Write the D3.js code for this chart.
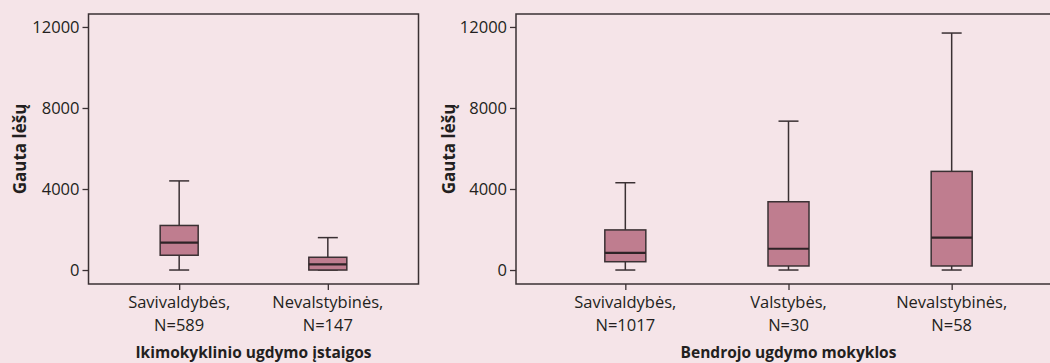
<!DOCTYPE html>
<html>
<head>
<meta charset="utf-8">
<script src="https://cdn.jsdelivr.net/npm/d3@7"></script>
<style>
  html, body { margin: 0; padding: 0; background: #f5e4e8; }
  svg { display: block; }
  text { font-family: "Open Sans", "Noto Sans", sans-serif; fill: #231f20; }
</style>
</head>
<body>
<svg id="chart" width="1050" height="363"></svg>
<script>
// ---- Data ----
const yTicks = [0, 4000, 8000, 12000];
const yLabel = "Gauta lėšų";

const preschoolTitle = "Ikimokyklinio ugdymo įstaigos";
const preschoolTypes = ["Savivaldybės,", "Nevalstybinės,"];
const preschoolN = ["N=589", "N=147"];
const preschoolMin = [0, 0];
const preschoolQ1 = [730, 0];
const preschoolMedian = [1350, 280];
const preschoolQ3 = [2200, 630];
const preschoolMax = [4400, 1600];

const schoolTitle = "Bendrojo ugdymo mokyklos";
const schoolTypes = ["Savivaldybės,", "Valstybės,", "Nevalstybinės,"];
const schoolN = ["N=1017", "N=30", "N=58"];
const schoolMin = [0, 0, 0];
const schoolQ1 = [410, 200, 200];
const schoolMedian = [850, 1050, 1600];
const schoolQ3 = [1980, 3370, 4870];
const schoolMax = [4310, 7350, 11700];

// ---- Drawing ----
const svg = d3.select("#chart");
const lineColor = "#3a3033";
const boxFill = "#bf7d8f";
const FONT = "'Open Sans', 'Noto Sans', sans-serif";

function panel(cfg) {
  const g = svg.append("g");
  const y = d3.scaleLinear().domain([-690, 12640]).range([cfg.bottom, cfg.top]);
  const x = d3.scalePoint().domain(cfg.types).range([cfg.left, cfg.right]).padding(cfg.pad);

  // frame
  g.append("rect")
    .attr("x", cfg.left).attr("y", cfg.top)
    .attr("width", cfg.right - cfg.left).attr("height", cfg.bottom - cfg.top)
    .attr("fill", "none").attr("stroke", lineColor).attr("stroke-width", 1.5);

  // y axis
  const ya = g.append("g").attr("transform", `translate(${cfg.left},0)`)
    .call(d3.axisLeft(y).tickValues(yTicks).tickSize(6).tickPadding(3).tickFormat(d3.format("d")));
  ya.attr("font-size", null).attr("font-family", null);
  ya.select(".domain").remove();
  ya.selectAll("line").attr("stroke", lineColor).attr("stroke-width", 1.3);
  ya.selectAll("text").attr("font-size", 16.5).attr("fill", "#231f20")
    .style("font-family", FONT);

  // x axis ticks
  const xa = g.append("g").attr("transform", `translate(0,${cfg.bottom})`)
    .call(d3.axisBottom(x).tickSize(6).tickFormat(""));
  xa.select(".domain").remove();
  xa.selectAll("line").attr("stroke", lineColor).attr("stroke-width", 1.3);

  // category labels (two lines)
  const lab = g.append("g");
  cfg.types.forEach((t, i) => {
    lab.append("text").attr("x", x(t)).attr("y", cfg.bottom + 24)
      .attr("text-anchor", "middle").attr("font-size", 16.5).text(t);
    lab.append("text").attr("x", x(t)).attr("y", cfg.bottom + 47)
      .attr("text-anchor", "middle").attr("font-size", 16.5).text(cfg.n[i]);
  });

  // x title
  g.append("text").attr("x", (cfg.left + cfg.right) / 2).attr("y", 358)
    .attr("text-anchor", "middle").attr("font-size", 15.5).attr("font-weight", 700)
    .text(cfg.title);

  // y title
  g.append("text")
    .attr("transform", `translate(${cfg.ylabX},${(cfg.top + cfg.bottom) / 2}) rotate(-90)`)
    .attr("text-anchor", "middle")
    .attr("font-size", 17).attr("font-weight", 700).text(yLabel);

  // boxes
  const data = cfg.types.map((t, i) => ({
    t, min: cfg.min[i], q1: cfg.q1[i], med: cfg.med[i], q3: cfg.q3[i], max: cfg.max[i]
  }));
  const bw = cfg.boxW, cw = cfg.capW;
  const b = g.selectAll(".box").data(data).join("g").attr("class", "box");
  b.append("line").attr("x1", d => x(d.t)).attr("x2", d => x(d.t))
    .attr("y1", d => y(d.max)).attr("y2", d => y(d.q3))
    .attr("stroke", lineColor).attr("stroke-width", 1.5);
  b.append("line").attr("x1", d => x(d.t)).attr("x2", d => x(d.t))
    .attr("y1", d => y(d.q1)).attr("y2", d => y(d.min))
    .attr("stroke", lineColor).attr("stroke-width", 1.5);
  b.append("line").attr("x1", d => x(d.t) - cw / 2).attr("x2", d => x(d.t) + cw / 2)
    .attr("y1", d => y(d.max)).attr("y2", d => y(d.max))
    .attr("stroke", lineColor).attr("stroke-width", 1.5);
  b.append("line").attr("x1", d => x(d.t) - cw / 2).attr("x2", d => x(d.t) + cw / 2)
    .attr("y1", d => y(d.min)).attr("y2", d => y(d.min))
    .attr("stroke", lineColor).attr("stroke-width", 1.5);
  b.append("rect").attr("x", d => x(d.t) - bw / 2).attr("width", bw)
    .attr("y", d => y(d.q3)).attr("height", d => Math.max(0, y(d.q1) - y(d.q3)))
    .attr("fill", boxFill).attr("stroke", lineColor).attr("stroke-width", 1.5);
  b.append("line").attr("x1", d => x(d.t) - bw / 2).attr("x2", d => x(d.t) + bw / 2)
    .attr("y1", d => y(d.med)).attr("y2", d => y(d.med))
    .attr("stroke", "#2e2326").attr("stroke-width", 2.2);
}

panel({
  left: 88.5, right: 418.5, top: 14, bottom: 284, pad: 0.61,
  types: preschoolTypes, n: preschoolN, title: preschoolTitle,
  min: preschoolMin, q1: preschoolQ1, med: preschoolMedian, q3: preschoolQ3, max: preschoolMax,
  boxW: 38, capW: 20, ylabX: 25.5
});
panel({
  left: 516, right: 1061, top: 14, bottom: 284, pad: 0.67,
  types: schoolTypes, n: schoolN, title: schoolTitle,
  min: schoolMin, q1: schoolQ1, med: schoolMedian, q3: schoolQ3, max: schoolMax,
  boxW: 41, capW: 20, ylabX: 454.5
});
</script>
</body>
</html>
